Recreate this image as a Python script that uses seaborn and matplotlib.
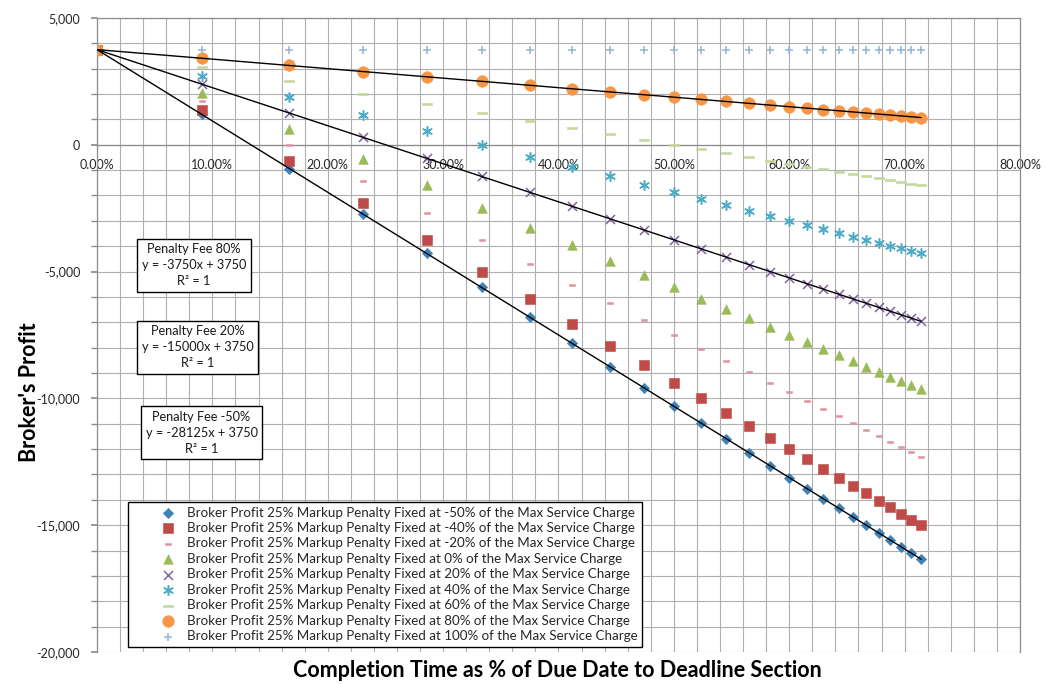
import numpy as np
import pandas as pd
import matplotlib
matplotlib.use("Agg")
import matplotlib.pyplot as plt
import seaborn as sns
from matplotlib.path import Path
from matplotlib.ticker import MultipleLocator, FuncFormatter

# ---------------- data ----------------
completion = [0.0, 0.0909, 0.1667, 0.2308, 0.2857, 0.3333, 0.3750, 0.4118, 0.4444,
              0.4737, 0.5000, 0.5238, 0.5455, 0.5652, 0.5833, 0.6000, 0.6154, 0.6296,
              0.6429, 0.6552, 0.6667, 0.6774, 0.6875, 0.6970, 0.7059, 0.7143]

profit_m50 = [3750, 1193, -938, -2740, -4286, -5625, -6797, -7831, -8750, -9572, -10313,
              -10982, -11591, -12147, -12656, -13125, -13558, -13958, -14330, -14677,
              -15000, -15302, -15586, -15852, -16103, -16339]
profit_m40 = [3750, 1364, -625, -2308, -3750, -5000, -6094, -7059, -7917, -8684, -9375,
              -10000, -10568, -11087, -11563, -12000, -12404, -12778, -13125, -13448,
              -13750, -14032, -14297, -14545, -14779, -15000]
profit_m20 = [3750, 1705, 0, -1442, -2679, -3750, -4688, -5515, -6250, -6908, -7500,
              -8036, -8523, -8967, -9375, -9750, -10096, -10417, -10714, -10991,
              -11250, -11492, -11719, -11932, -12132, -12321]
profit_0 = [3750, 2045, 625, -577, -1607, -2500, -3281, -3971, -4583, -5132, -5625,
            -6071, -6477, -6848, -7188, -7500, -7788, -8056, -8304, -8534,
            -8750, -8952, -9141, -9318, -9485, -9643]
profit_20 = [3750, 2386, 1250, 288, -536, -1250, -1875, -2426, -2917, -3355, -3750,
             -4107, -4432, -4728, -5000, -5250, -5481, -5694, -5893, -6078,
             -6250, -6411, -6563, -6705, -6838, -6964]
profit_40 = [3750, 2727, 1875, 1154, 536, 0, -469, -882, -1250, -1579, -1875,
             -2143, -2386, -2609, -2813, -3000, -3173, -3333, -3482, -3621,
             -3750, -3871, -3984, -4091, -4191, -4286]
profit_60 = [3750, 3068, 2500, 2019, 1607, 1250, 938, 662, 417, 197, 0,
             -179, -341, -489, -625, -750, -865, -972, -1071, -1164,
             -1250, -1331, -1406, -1477, -1544, -1607]
profit_80 = [3750, 3409, 3125, 2885, 2679, 2500, 2344, 2206, 2083, 1974, 1875,
             1786, 1705, 1630, 1563, 1500, 1442, 1389, 1339, 1293,
             1250, 1210, 1172, 1136, 1103, 1071]
profit_100 = [3750] * 26

penalty_labels = ["-50%", "-40%", "-20%", "0%", "20%", "40%", "60%", "80%", "100%"]
trend_texts = ["Penalty Fee 80%\ny = -3750x + 3750\nR² = 1",
               "Penalty Fee 20%\ny = -15000x + 3750\nR² = 1",
               "Penalty Fee -50%\ny = -28125x + 3750\nR² = 1"]

# ---------------- style ----------------
sns.set_theme(style="white")
plt.rcParams["font.family"] = ["Lato", "DejaVu Sans"]

fig = plt.figure(figsize=(10.5, 6.84), dpi=100)
ax = fig.add_axes([0.0924, 0.0468, 0.879, 0.927])

dash_small = Path([(-1, -0.38), (1, -0.38), (1, 0.38), (-1, 0.38), (-1, -0.38)],
                  [Path.MOVETO, Path.LINETO, Path.LINETO, Path.LINETO, Path.CLOSEPOLY])
dash_long = Path([(-1, -0.24), (1, -0.24), (1, 0.24), (-1, 0.24), (-1, -0.24)],
                 [Path.MOVETO, Path.LINETO, Path.LINETO, Path.LINETO, Path.CLOSEPOLY])

series = [
    (profit_m50, "D", "#3E82B6", 28, True),
    (profit_m40, "s", "#BE4B48", 55, True),
    (profit_m20, dash_small, "#DD96A0", 22, True),
    (profit_0, "^", "#9BBB59", 48, True),
    (profit_20, "x", "#8064A2", 42, False),
    (profit_40, (6, 2, 0), "#4BACC6", 48, False),
    (profit_60, dash_long, "#C4D79B", 48, True),
    (profit_80, "o", "#F79646", 70, True),
    (profit_100, "+", "#95B3D7", 38, False),
]

for (vals, mk, col, size, filled), pl in zip(series, penalty_labels):
    label = f"Broker Profit 25% Markup Penalty Fixed at {pl} of the Max Service Charge"
    if filled:
        sns.scatterplot(x=completion, y=vals, marker=mk, s=size, color=col,
                        edgecolor=col, linewidth=0.4, label=label, ax=ax, zorder=3)
    else:
        sns.scatterplot(x=completion, y=vals, marker=mk, s=size, color=col,
                        linewidth=1.1, label=label, ax=ax, zorder=3)

# linear trendlines
for vals in (profit_80, profit_20, profit_m50):
    sns.regplot(x=completion, y=vals, scatter=False, ci=None, truncate=True,
                color="black", line_kws={"lw": 1.0, "zorder": 5}, ax=ax)

# ---------------- axes ----------------
ax.set_xlim(0, 0.8)
ax.set_ylim(-20000, 5000)
ax.xaxis.set_major_locator(MultipleLocator(0.1))
ax.xaxis.set_minor_locator(MultipleLocator(0.02))
ax.yaxis.set_major_locator(MultipleLocator(5000))
ax.yaxis.set_minor_locator(MultipleLocator(1000))
ax.xaxis.set_major_formatter(FuncFormatter(lambda v, p: f"{v*100:.2f}%"))
ax.yaxis.set_major_formatter(FuncFormatter(lambda v, p: f"{v:,.0f}"))

grid_col = "#AFAFAF"
ax.grid(True, which="both", color=grid_col, lw=0.8, zorder=0)
ax.set_axisbelow(True)
for side in ("left", "right", "top", "bottom"):
    ax.spines[side].set_color("#8C8C8C")
    ax.spines[side].set_linewidth(0.9)
ax.spines["bottom"].set_position(("data", 0))

ax.tick_params(axis="x", which="both", length=0, pad=10, labelsize=9, colors="#404040")
ax.tick_params(axis="x", labelcolor="#262626")
ax.tick_params(axis="y", which="both", length=4, direction="out", pad=8,
               labelsize=9, color="#8C8C8C", labelcolor="#262626", left=True)

ax.set_xlabel("Completion Time as % of Due Date to Deadline Section",
              fontsize=15.5, fontweight="bold", color="black")
ax.set_ylabel("Broker's Profit", fontsize=15.5, fontweight="bold", color="black")
ax.xaxis.set_label_coords(0.499, -0.012)
ax.yaxis.set_label_coords(-0.062, 0.41)

# trendline annotation boxes
box_pos = [(0.084, -4759), (0.0871, -7993), (0.0906, -11364)]
for (bx, by), txt in zip(box_pos, trend_texts):
    ax.text(bx, by, txt, ha="center", va="center", fontsize=9.2, linespacing=1.4,
            color="#1a1a1a", zorder=6,
            bbox=dict(boxstyle="square,pad=0.35", fc="white", ec="black", lw=1))

leg = ax.legend(loc="lower left", bbox_to_anchor=(0.0336, 0.008), borderaxespad=0,
                fontsize=9.6, frameon=True, fancybox=False, edgecolor="black",
                framealpha=1, labelspacing=0.26, handlelength=5.3,
                handletextpad=-1.25, borderpad=0.35, scatterpoints=1)
leg.get_frame().set_linewidth(1.0)
leg.set_zorder(7)

fig.savefig("out.png", dpi=100, facecolor="white")
